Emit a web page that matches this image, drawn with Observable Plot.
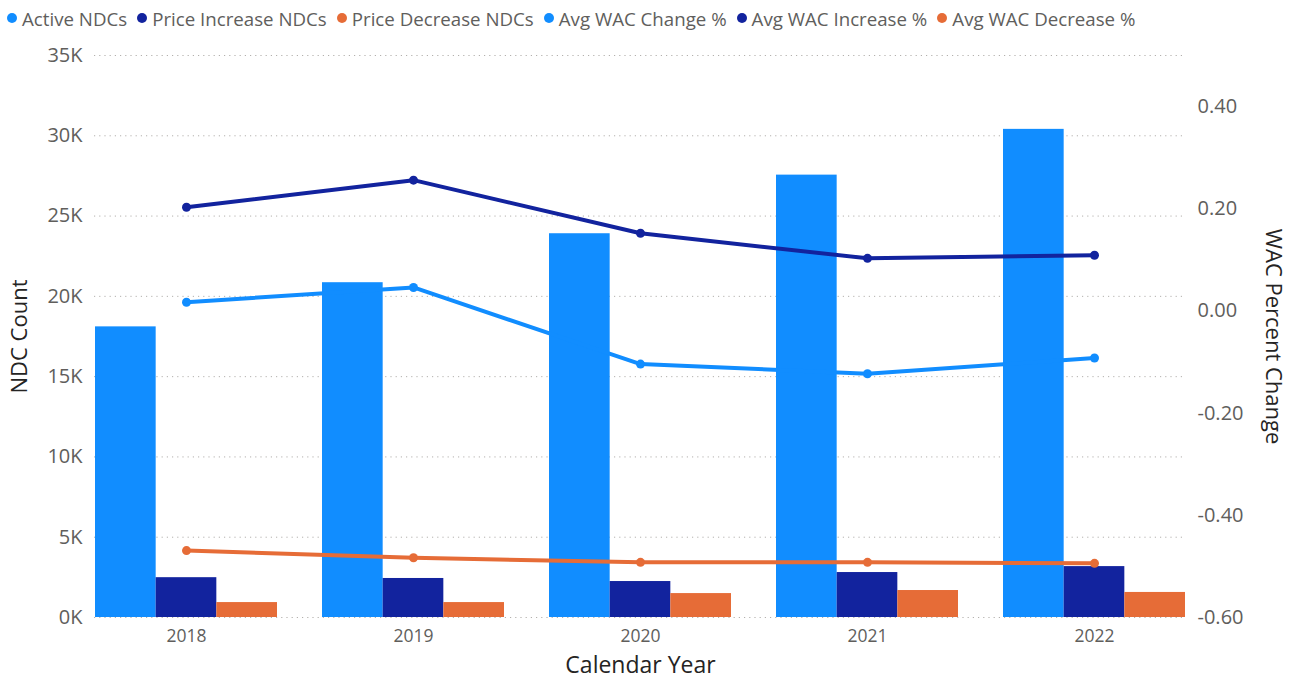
<!DOCTYPE html>
<html><head><meta charset="utf-8">
<script src="https://cdn.jsdelivr.net/npm/d3@7"></script>
<script src="https://cdn.jsdelivr.net/npm/@observablehq/plot@0.6"></script>
<style>
body{margin:0;background:#fff;font-family:"Segoe UI","Open Sans",sans-serif;}
#legend{height:36px;display:flex;align-items:center;padding-left:7px;font-size:18.7px;color:#605E5C;white-space:nowrap;}
.item{display:flex;align-items:center;margin-right:10px}
.dot{width:10px;height:10px;border-radius:50%;margin-right:5px}
</style></head><body>
<div id="legend"></div><div id="chart"></div>
<script>
const years = ["2018", "2019", "2020", "2021", "2022"];
const activeNDCs = [18100, 20850, 23900, 27550, 30400];
const priceIncreaseNDCs = [2480, 2430, 2240, 2800, 3170];
const priceDecreaseNDCs = [930, 930, 1490, 1680, 1560];
const avgWacChange = [0.017, 0.046, -0.104, -0.123, -0.092];
const avgWacIncrease = [0.203, 0.256, 0.152, 0.103, 0.109];
const avgWacDecrease = [-0.469, -0.483, -0.492, -0.492, -0.494];
const leftTicks = [0, 5000, 10000, 15000, 20000, 25000, 30000, 35000];
const rightTicks = [-0.6, -0.4, -0.2, 0, 0.2, 0.4];
const legendLabels = ["Active NDCs", "Price Increase NDCs", "Price Decrease NDCs", "Avg WAC Change %", "Avg WAC Increase %", "Avg WAC Decrease %"];
const colors = ["#118DFF", "#12239E", "#E66C37", "#118DFF", "#12239E", "#E66C37"];

const leftMax = 35000, rMin = -0.6, rMax = 0.5;
const toLeft = v => (v - rMin) / (rMax - rMin) * leftMax;
const toRight = d => d / leftMax * (rMax - rMin) + rMin;

// legend
const lg = document.getElementById("legend");
legendLabels.forEach((l, i) => {
  const it = document.createElement("div"); it.className = "item";
  const d = document.createElement("div"); d.className = "dot"; d.style.background = colors[i];
  const t = document.createElement("span"); t.textContent = l;
  it.appendChild(d); it.appendChild(t); lg.appendChild(it);
});

const width = 1292, height = 646;
const marginLeft = 94, marginRight = 106, marginTop = 19, marginBottom = 65;
const padInner = 0.2;
const step = (width - marginLeft - marginRight) / (years.length - padInner);
const third = step * (1 - padInner) / 3;

const bars = [activeNDCs, priceIncreaseNDCs, priceDecreaseNDCs].map(arr => years.map((y, i) => ({year: y, value: arr[i]})));
const lines = [avgWacChange, avgWacIncrease, avgWacDecrease].map(arr => years.map((y, i) => ({year: y, value: arr[i]})));

const marks = [
  Plot.gridY(leftTicks, {stroke: "#b3b0ad", strokeOpacity: 1, strokeDasharray: "1.2,4"}),
  ...bars.map((b, k) => Plot.barY(b, {x: "year", y: "value", fill: colors[k], insetLeft: k * third, insetRight: (2 - k) * third})),
  ...lines.map((l, k) => Plot.line(l, {x: "year", y: d => toLeft(d.value), stroke: colors[k + 3], strokeWidth: 4})),
  ...lines.map((l, k) => Plot.dot(l, {x: "year", y: d => toLeft(d.value), fill: colors[k + 3], r: 4.5})),
  Plot.axisY(leftTicks, {anchor: "left", tickSize: 0, tickPadding: 12, tickFormat: d => d / 1000 + "K", fontSize: 20, color: "#605E5C", label: null}),
  Plot.axisY(rightTicks.map(toLeft), {anchor: "right", tickSize: 0, tickPadding: 11, tickFormat: d => (Math.round(toRight(d) * 100) / 100).toFixed(2), fontSize: 20, color: "#605E5C", label: null}),
  Plot.axisX({tickSize: 0, tickPadding: 12, fontSize: 17.5, color: "#605E5C", label: null}),
  Plot.text(["NDC Count"], {frameAnchor: "left", textAnchor: "middle", lineAnchor: "middle", rotate: -90, dx: -75, fontSize: 22, fill: "#252423"}),
  Plot.text(["WAC Percent Change"], {frameAnchor: "right", textAnchor: "middle", lineAnchor: "middle", rotate: 90, dx: 87, fontSize: 22, fill: "#252423"}),
  Plot.text(["Calendar Year"], {frameAnchor: "bottom", textAnchor: "middle", lineAnchor: "middle", dy: 48, fontSize: 23, fill: "#252423"})
];

const chart = Plot.plot({
  width, height, marginLeft, marginRight, marginTop, marginBottom,
  style: {fontFamily: '"Segoe UI","Open Sans",sans-serif', background: "#fff", overflow: "visible"},
  x: {type: "band", domain: years, paddingInner: padInner, paddingOuter: 0},
  y: {domain: [0, leftMax]},
  marks
});
document.getElementById("chart").appendChild(chart);
</script>
</body></html>
